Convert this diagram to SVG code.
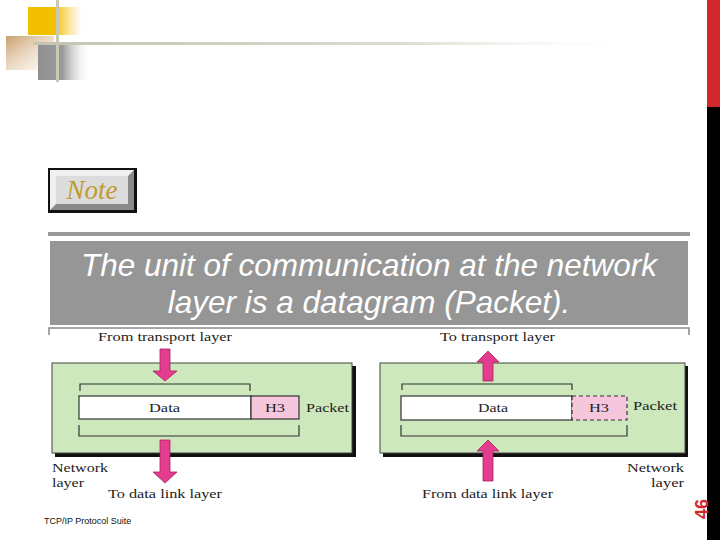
<svg xmlns="http://www.w3.org/2000/svg" width="720" height="540" viewBox="0 0 720 540">
<defs>
<linearGradient id="gy" x1="0" y1="0" x2="1" y2="0"><stop offset="0" stop-color="#f2c000"/><stop offset="0.5" stop-color="#f2c000"/><stop offset="1" stop-color="#f6d060" stop-opacity="0"/></linearGradient>
<linearGradient id="gb" x1="0" y1="0" x2="1" y2="1"><stop offset="0" stop-color="#c8a070"/><stop offset="0.8" stop-color="#e8d0b0" stop-opacity="0.3"/><stop offset="1" stop-color="#ffffff" stop-opacity="0"/></linearGradient>
<linearGradient id="gg" x1="0" y1="0" x2="1" y2="0"><stop offset="0" stop-color="#909090"/><stop offset="0.45" stop-color="#9a9a9a"/><stop offset="1" stop-color="#ffffff" stop-opacity="0"/></linearGradient>
<linearGradient id="gl" x1="0" y1="0" x2="1" y2="0"><stop offset="0" stop-color="#c4c4b0"/><stop offset="0.6" stop-color="#dcdcd0"/><stop offset="1" stop-color="#ffffff" stop-opacity="0"/></linearGradient>
</defs>
<style>
.box{fill:#cde8bd;stroke:#444;stroke-width:1}
.shadow{fill:#111}
.data{fill:#ffffff;stroke:#333;stroke-width:1.2}
.h3{fill:#f6c6dd;stroke:#333;stroke-width:1.2}
.h3d{fill:#f6c6dd;stroke:#333;stroke-width:1.2;stroke-dasharray:4 3}
.br{fill:none;stroke:#333;stroke-width:1.2}
.arr{fill:#e43d8f;stroke:#a8205e;stroke-width:0.8}
.t{font-family:"Liberation Serif","Times New Roman",serif;font-size:13px;fill:#222}
.big{font-family:"Liberation Sans",Arial,sans-serif;font-style:italic;font-size:31.5px;fill:#ffffff}
</style>
<rect width="720" height="540" fill="#ffffff"/>
<g id="decor">
<rect x="28" y="7" width="54" height="28" fill="url(#gy)"/>
<rect x="6" y="36" width="48" height="34" fill="url(#gb)"/>
<rect x="38" y="45" width="54" height="35" fill="url(#gg)"/>
<rect x="33" y="42" width="620" height="3" fill="url(#gl)"/>
<rect x="56" y="0" width="3" height="82" fill="#c8c8b4"/>
<rect x="707" y="0" width="13" height="107" fill="#d0282d"/>
<rect x="707" y="107" width="13" height="433" fill="#000000"/>
<text x="0" y="0" transform="translate(708,519) rotate(-90)" font-family="Liberation Sans,Arial,sans-serif" font-weight="bold" font-size="18" fill="#d0282d">46</text>
</g>
<g id="note">
<rect x="48" y="168" width="89" height="45" fill="#111"/>
<rect x="50" y="170" width="84" height="40" fill="#8a8a8a"/>
<polygon points="50,170 134,170 128,176 56,176 56,204 50,210" fill="#f0f0f0"/>
<rect x="56" y="176" width="72" height="28" fill="#dcdcdc"/>
<text x="92" y="199" text-anchor="middle" font-family="Liberation Serif,Times New Roman,serif" font-style="italic" font-size="27" fill="#c09a30">Note</text>
</g>
<g id="statement">
<rect x="48" y="232" width="642" height="4" fill="#999999"/>
<rect x="50" y="241" width="638" height="84" fill="#969696"/>
<text class="big" x="369" y="276" text-anchor="middle">The unit of communication at the network</text>
<text class="big" x="369" y="313" text-anchor="middle">layer is a datagram (Packet).</text>
<path d="M49,335 V328 H689 V335" fill="none" stroke="#888" stroke-width="1.5"/>
</g>
<g id="sender">
<rect class="shadow" x="55" y="366" width="301" height="91"/>
<rect class="box" x="52" y="363" width="300" height="90"/>
<path class="br" d="M80,391 V384 H250 V391"/>
<rect class="data" x="79" y="396" width="172" height="23"/>
<rect class="h3" x="251" y="396" width="48" height="23"/>
<path class="br" d="M79,425 V436 H299 V425"/>
<text class="t" x="149" y="412" textLength="31" lengthAdjust="spacingAndGlyphs">Data</text>
<text class="t" x="265" y="412" textLength="20" lengthAdjust="spacingAndGlyphs">H3</text>
<text class="t" x="306" y="412" textLength="43" lengthAdjust="spacingAndGlyphs">Packet</text>
<text class="t" x="98" y="341" textLength="134" lengthAdjust="spacingAndGlyphs">From transport layer</text>
<text class="t" x="52" y="472" textLength="56" lengthAdjust="spacingAndGlyphs">Network</text>
<text class="t" x="52" y="487" textLength="32" lengthAdjust="spacingAndGlyphs">layer</text>
<text class="t" x="108" y="498" textLength="114" lengthAdjust="spacingAndGlyphs">To data link layer</text>
</g>
<g id="receiver">
<rect class="shadow" x="383" y="366" width="305" height="91"/>
<rect class="box" x="380" y="363" width="305" height="90"/>
<path class="br" d="M402,390 V384 H572 V390"/>
<rect class="data" x="401" y="396" width="171" height="24"/>
<rect class="h3d" x="572" y="396" width="55" height="24"/>
<path class="br" d="M401,425 V436 H627 V425"/>
<text class="t" x="478" y="412" textLength="30" lengthAdjust="spacingAndGlyphs">Data</text>
<text class="t" x="589" y="412" textLength="20" lengthAdjust="spacingAndGlyphs">H3</text>
<text class="t" x="633" y="410" textLength="44" lengthAdjust="spacingAndGlyphs">Packet</text>
<text class="t" x="440" y="341" textLength="115" lengthAdjust="spacingAndGlyphs">To transport layer</text>
<text class="t" x="684" y="472" text-anchor="end" textLength="57" lengthAdjust="spacingAndGlyphs">Network</text>
<text class="t" x="684" y="487" text-anchor="end" textLength="33" lengthAdjust="spacingAndGlyphs">layer</text>
<text class="t" x="422" y="498" textLength="131" lengthAdjust="spacingAndGlyphs">From data link layer</text>
</g>
<g id="connectors">
<polygon class="arr" points="160,349 170,349 170,371 177,371 165,381 153,371 160,371"/>
<polygon class="arr" points="160,440 170,440 170,472 177,472 165,483 153,472 160,472"/>
<polygon class="arr" points="483,381 493,381 493,362 499,362 488,351 477,362 483,362"/>
<polygon class="arr" points="483,481 493,481 493,451 499,451 488,440 477,451 483,451"/>
</g>
<text x="44" y="524" font-family="Liberation Sans,Arial,sans-serif" font-size="9" fill="#111">TCP/IP Protocol Suite</text>
</svg>
